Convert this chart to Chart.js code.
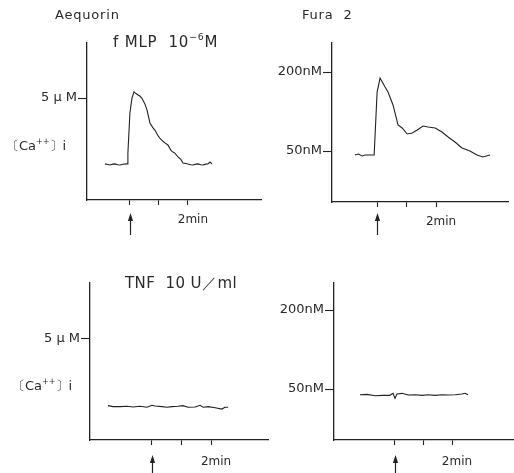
<!DOCTYPE html>
<html>
<head>
<meta charset="utf-8">
<script src="https://cdn.jsdelivr.net/npm/chart.js@4/dist/chart.umd.min.js"></script>
<style>
  html, body { margin:0; padding:0; background:#fff; }
  #wrap { position:relative; width:514px; height:473px; overflow:hidden; background:#fff; }
  canvas { position:absolute; left:0; top:0; pointer-events:none; }
  .t { position:absolute; white-space:pre; font-family:"DejaVu Sans", sans-serif; color:#2a2a2a; line-height:1; }
  .t sup { font-size:0.62em; vertical-align:0; position:relative; top:-0.8em; }
</style>
</head>
<body>
<div id="wrap">
  <canvas id="c1" width="514" height="473"></canvas>
  <canvas id="c2" width="514" height="473"></canvas>
  <canvas id="c3" width="514" height="473"></canvas>
  <canvas id="c4" width="514" height="473"></canvas>
  <div class="t" style="left:55px;top:8px;font-size:13px;letter-spacing:0.8px;">Aequorin</div>
  <div class="t" style="left:302px;top:8px;font-size:13px;letter-spacing:0.8px;">Fura  2</div>
  <div class="t" style="left:113px;top:35px;font-size:15px;letter-spacing:0.8px;">f MLP  10<sup>−6</sup>M</div>
  <div class="t" style="left:125px;top:276px;font-size:15px;letter-spacing:0.4px;">TNF  10 U／ml</div>
  <div class="t" style="left:6px;top:139px;font-size:13px;">〔Ca<sup>++</sup>〕i</div>
  <div class="t" style="left:12px;top:379px;font-size:13px;">〔Ca<sup>++</sup>〕i</div>
</div>
<script>
// ---- data (time in min relative to stimulus) ----
const aeqFmlpTime = [-0.86,-0.76,-0.69,-0.59,-0.52,-0.41,-0.34,-0.24,-0.10,-0.07,0.00,0.07,0.14,0.21,0.28,0.34,0.41,0.52,0.59,0.69,0.79,0.86,0.97,1.03,1.14,1.21,1.31,1.41,1.48,1.55,1.66,1.76,1.83,1.93,2.00,2.10,2.17,2.28,2.34,2.45,2.52,2.62,2.69,2.76,2.83];
const aeqFmlpCa   = [1.77,1.74,1.72,1.76,1.77,1.73,1.72,1.75,1.77,2.30,4.27,5.00,5.30,5.22,5.15,5.10,5.00,4.70,4.41,3.78,3.55,3.43,3.15,3.04,2.88,2.80,2.70,2.45,2.35,2.30,2.11,1.98,1.81,1.79,1.77,1.73,1.72,1.76,1.77,1.73,1.72,1.76,1.77,1.86,1.77];

const furaFmlpTime = [-0.75,-0.64,-0.51,-0.41,-0.24,-0.10,0.00,0.10,0.27,0.37,0.54,0.71,0.85,1.02,1.19,1.36,1.56,1.73,1.97,2.20,2.41,2.64,2.88,3.15,3.39,3.59,3.83];
const furaFmlpCa   = [42.4,44.3,40.5,42.4,42.4,42.4,162,188.6,171.5,162,137.4,99.4,93.7,82.3,84.2,89.9,97.5,95.6,93.7,86.1,76.6,67.1,55.7,50.0,42.4,38.6,42.4];

const aeqTnfTime = [-1.49,-1.32,-1.08,-0.85,-0.64,-0.41,-0.17,0.00,0.10,0.34,0.51,0.68,0.88,1.05,1.22,1.46,1.63,1.73,1.90,2.14,2.37,2.47,2.58];
const aeqTnfCa   = [1.70,1.65,1.65,1.67,1.63,1.67,1.62,1.72,1.68,1.65,1.62,1.65,1.67,1.70,1.62,1.63,1.72,1.62,1.65,1.60,1.53,1.62,1.62];

const furaTnfTime = [-1.23,-0.98,-0.70,-0.42,-0.18,-0.07,0.00,0.07,0.25,0.46,0.70,0.95,1.16,1.40,1.65,1.86,2.11,2.35,2.46,2.56];
const furaTnfCa   = [39.2,39.9,37.3,38.0,38.0,41.8,32.3,40.5,41.8,38.6,39.2,38.0,39.2,38.0,39.2,38.6,39.2,40.5,41.8,39.2];

const aeqTicks = [5];
const aeqTickLabels = ['5 µ M'];
const furaTicks = [50, 200];
const furaTickLabels = ['50nM', '200nM'];
const timeTicks = [0, 1, 2];
const timeTickLabels = ['', '', '2min'];
const stimulusTime = 0;

const INK = '#222';

const arrowPlugin = {
  id: 'arrow',
  afterDraw(chart, args, opts) {
    const ctx = chart.ctx;
    const x = Math.round(chart.scales.x.getPixelForValue(stimulusTime)) + 0.5;
    const base = chart.chartArea.bottom;
    const y0 = base + opts.top, y1 = base + opts.bottom;
    ctx.save();
    ctx.strokeStyle = INK; ctx.fillStyle = INK; ctx.lineWidth = 1.2;
    ctx.beginPath(); ctx.moveTo(x, y0 + 4); ctx.lineTo(x, y1); ctx.stroke();
    ctx.beginPath(); ctx.moveTo(x, y0); ctx.lineTo(x - 2.6, y0 + 8); ctx.lineTo(x + 2.6, y0 + 8); ctx.closePath(); ctx.fill();
    ctx.restore();
  }
};

function makeChart(id, times, values, o) {
  const pts = times.map((t, i) => ({ x: t, y: values[i] }));
  return new Chart(document.getElementById(id), {
    type: 'line',
    data: { datasets: [{ data: pts, borderColor: INK, borderWidth: 1.1, pointRadius: 0, tension: 0, fill: false }] },
    options: {
      responsive: false, animation: false, devicePixelRatio: 1,
      layout: { padding: o.padding },
      plugins: { legend: { display: false }, tooltip: { enabled: false }, arrow: { top: o.arrowTop, bottom: o.arrowBottom } },
      scales: {
        x: {
          type: 'linear', min: o.xMin, max: o.xMax,
          afterBuildTicks: s => { s.ticks = timeTicks.map(v => ({ value: v })); },
          afterFit: s => { s.height = 40; },
          grid: { drawOnChartArea: false, drawTicks: true, tickLength: 5, tickWidth: 1.1, tickColor: INK },
          border: { display: true, color: INK, width: 1.3 },
          ticks: { autoSkip: false, maxRotation: 0, padding: o.xPad, labelOffset: 5, color: '#2a2a2a',
                   font: { family: 'DejaVu Sans', size: 12 },
                   callback: v => timeTickLabels[timeTicks.indexOf(v)] ?? '' }
        },
        y: {
          type: 'linear', min: o.yMin, max: o.yMax,
          afterBuildTicks: s => { s.ticks = o.yTicks.map(v => ({ value: v })); },
          afterFit: s => { s.width = 60; },
          grid: { drawOnChartArea: false, drawTicks: true, tickLength: 9, tickWidth: 1.1, tickColor: INK },
          border: { display: true, color: INK, width: 1.3 },
          ticks: { padding: 1, color: '#2a2a2a', font: { family: 'DejaVu Sans', size: 13 },
                   callback: v => o.yLabels[o.yTicks.indexOf(v)] ?? '' }
        }
      }
    },
    plugins: [arrowPlugin]
  });
}

// panel geometry: chart area L,T,R,B
function pad(L, T, R, B) { return { left: L - 60, top: T, right: 514 - R, bottom: 473 - B - 40 }; }

makeChart('c1', aeqFmlpTime, aeqFmlpCa, {
  padding: pad(87, 43, 261, 200), xMin: -1.48, xMax: 4.52, yMin: 0, yMax: 7.7,
  yTicks: aeqTicks, yLabels: aeqTickLabels, xPad: 8, arrowTop: 13, arrowBottom: 35 });
makeChart('c2', furaFmlpTime, furaFmlpCa, {
  padding: pad(332, 43, 508, 202), xMin: -1.53, xMax: 4.44, yMin: -46.8, yMax: 255.1,
  yTicks: furaTicks, yLabels: furaTickLabels, xPad: 8, arrowTop: 11, arrowBottom: 33 });
makeChart('c3', aeqTnfTime, aeqTnfCa, {
  padding: pad(90, 283, 268, 440), xMin: -2.10, xMax: 3.93, yMin: 0, yMax: 7.77,
  yTicks: aeqTicks, yLabels: aeqTickLabels, xPad: 10, arrowTop: 15, arrowBottom: 40 });
makeChart('c4', furaTnfTime, furaTnfCa, {
  padding: pad(334, 283, 513, 440), xMin: -2.14, xMax: 4.14, yMin: -46.8, yMax: 251.3,
  yTicks: furaTicks, yLabels: furaTickLabels, xPad: 10, arrowTop: 15, arrowBottom: 40 });
</script>
</body>
</html>
